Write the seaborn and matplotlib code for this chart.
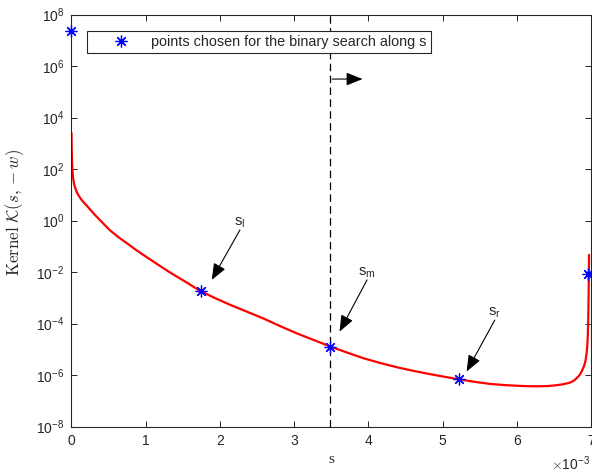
import numpy as np
import matplotlib
matplotlib.use("Agg")
import matplotlib.pyplot as plt
import seaborn as sns

# ── data (s in units of 1e-3, kernel as log10) ────────────
curve_s = [0.003, 0.006, 0.010, 0.015, 0.020, 0.026, 0.036, 0.050, 0.070, 0.094,
           0.13, 0.17, 0.21, 0.27, 0.34, 0.42, 0.52, 0.63, 0.75, 0.86,
           0.97, 1.08, 1.19, 1.30, 1.42, 1.57, 1.73, 1.93, 2.14, 2.36,
           2.58, 2.80, 3.03, 3.26, 3.49, 3.71, 3.93, 4.15, 4.38, 4.60,
           4.83, 5.02, 5.22, 5.43, 5.64, 5.86, 6.08, 6.20, 6.31, 6.42,
           6.53, 6.62, 6.70, 6.76, 6.80, 6.84, 6.87, 6.90, 6.92, 6.935,
           6.945, 6.952, 6.957, 6.962, 6.966, 6.968]
curve_logk = [3.40, 2.75, 2.30, 1.98, 1.80, 1.64, 1.45, 1.30, 1.14, 1.00,
              0.84, 0.70, 0.58, 0.38, 0.16, -0.08, -0.37, -0.63, -0.88, -1.11,
              -1.33, -1.54, -1.75, -1.96, -2.17, -2.43, -2.72, -3.00, -3.27, -3.53,
              -3.79, -4.08, -4.37, -4.63, -4.89, -5.12, -5.34, -5.52, -5.69, -5.83,
              -5.96, -6.06, -6.16, -6.26, -6.34, -6.39, -6.42, -6.43, -6.43, -6.42,
              -6.39, -6.35, -6.30, -6.22, -6.12, -6.00, -5.85, -5.65, -5.45, -5.15,
              -4.85, -4.40, -3.90, -3.00, -2.00, -1.33]

search_s = [0.0, 1.74, 3.48, 5.22, 6.96]
search_k = [2.3e7, 1.9e-3, 1.3e-5, 6.9e-7, 8.3e-3]

split_s = 3.48
ytick_exp = [-8, -6, -4, -2, 0, 2, 4, 6, 8]
xtick_vals = [0, 1, 2, 3, 4, 5, 6, 7]

labels = ["s$_\\mathregular{l}$", "s$_\\mathregular{m}$", "s$_\\mathregular{r}$"]
# arrow tail / head (s in 1e-3, log10 K)
arrow_tail = [(2.27, -0.36), (3.98, -2.30), (5.70, -3.86)]
arrow_head = [(1.89, -2.30), (3.61, -4.31), (5.32, -5.86)]

# ── style ─────────────────────────────────────────────────
sns.set_style("ticks")
plt.rcParams["font.family"] = ["Liberation Sans", "DejaVu Sans"]
plt.rcParams["mathtext.fontset"] = "cm"
DARK = "#262626"
ARROW = dict(arrowstyle="-|>,head_length=1.0,head_width=0.4",
             color="black", lw=0.8, shrinkA=0, shrinkB=0)

fig = plt.figure(figsize=(5.92, 4.75), dpi=100)
ax = fig.add_axes([0.1204, 0.1017, 0.8786, 0.8674])

sc = 1e-3
sns.lineplot(x=np.array(curve_s) * sc, y=10.0 ** np.array(curve_logk), ax=ax,
             color="red", linewidth=1.6, sort=False, estimator=None, zorder=2)
ax.axvline(split_s * sc, color="black", linestyle=(0, (6, 3.5)), linewidth=0.9, zorder=1)
ax.plot(np.array(search_s) * sc, search_k, linestyle="none", marker=(8, 2, 0),
        markersize=8.5, markeredgewidth=0.9, color="blue", clip_on=False, zorder=3,
        label="points chosen for the binary search along s")

ax.set_yscale("log")
ax.set_xlim(0, 7e-3)
ax.set_ylim(1e-8, 1e8)
ax.set_yticks([10.0 ** e for e in ytick_exp])
ax.set_yticklabels([f"$\\mathdefault{{10^{{{e}}}}}$" for e in ytick_exp])
ax.yaxis.set_minor_locator(matplotlib.ticker.NullLocator())
ax.set_xticks(np.array(xtick_vals) * sc)
ax.set_xticklabels([str(v) for v in xtick_vals])

ax.tick_params(direction="in", top=True, right=True, length=4.3, width=0.7,
               colors=DARK, labelsize=10, pad=5)
for sp in ax.spines.values():
    sp.set_color(DARK)
    sp.set_linewidth(0.8)
    sp.set_visible(True)

# x-axis exponent, placed like MATLAB's
fig.text(0.996, 1 - 464 / 475, r"$\times\mathdefault{10^{-3}}$", ha="right",
         va="center", fontsize=10, color=DARK)

ax.set_xlabel("s", family="Liberation Serif", fontsize=11, color=DARK, labelpad=4)
ax.set_ylabel(r"$\mathrm{Kernel}\ \mathcal{K}(s,-w)$", fontsize=12.2, color=DARK)
ax.yaxis.set_label_coords(-0.087, 0.521)

# arrows and labels
for lab, (tx, ty), (hx, hy) in zip(labels, arrow_tail, arrow_head):
    ax.annotate("", xy=(hx * sc, 10 ** hy), xytext=(tx * sc, 10 ** ty), arrowprops=ARROW)
    ax.text(tx * sc, 10 ** ty, lab, ha="center", va="bottom", fontsize=10.5)

ax.annotate("", xy=(3.92 * sc, 10 ** 5.5), xytext=(3.51 * sc, 10 ** 5.5), arrowprops=ARROW)

leg = ax.legend(loc="upper left", bbox_to_anchor=(0.0308, 0.961), borderaxespad=0,
                fontsize=10.4, fancybox=False, framealpha=1, edgecolor=DARK,
                borderpad=0.3, handletextpad=0.1, handlelength=4.0)
leg.get_frame().set_linewidth(0.8)

fig.savefig("out.png", dpi=100)
